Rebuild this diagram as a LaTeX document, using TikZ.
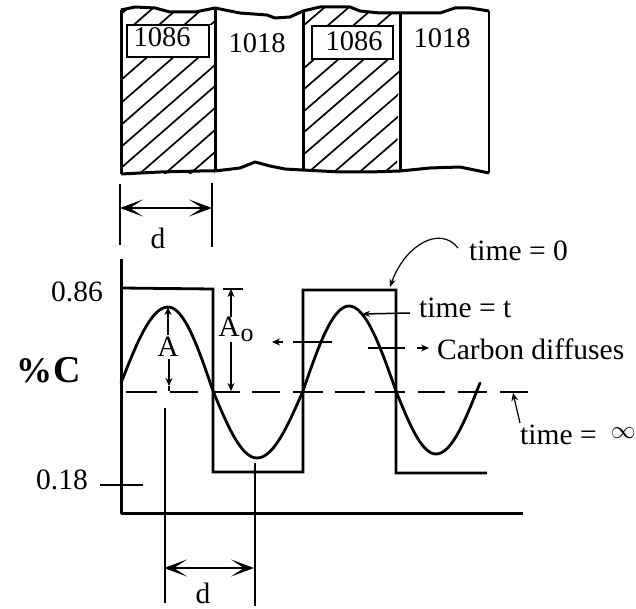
\documentclass[tikz,border=0pt]{standalone}
\usepackage{fontspec}
\setmainfont{Liberation Serif}
\usetikzlibrary{arrows.meta}
\tikzset{
  x=1pt,y=-1pt,
  lbl/.style={inner sep=0pt,font=\fontsize{29.5}{31}\selectfont},
  vlbl/.style={inner sep=0pt,font=\fontsize{28.5}{30}\selectfont},
  border/.style={line width=3pt,line join=round},
  hatch/.style={line width=1.7pt},
  fineline/.style={line width=1.2pt},
  curve/.style={line width=2.8pt,line join=miter},
  dim/.style={line width=2.2pt,{Stealth[length=23pt,width=17pt,inset=13pt]}-{Stealth[length=23pt,width=17pt,inset=13pt]}},
  small/.style={line width=1.2pt,-{Stealth[length=8pt,width=7pt]}},
  boxlabel/.style={draw,line width=2.5pt,inner sep=0pt,fill=white},
}
\begin{document}
\begin{tikzpicture}
\useasboundingbox (0,0) rectangle (636,609);
% specimen hatching
\begin{scope}
\clip (121,10)--(135,7)--(155,8)--(170,12)--(195,12)--(215,8)--(215,174)--(121,174)--cycle;
\foreach \y in {-30,-8,14,36,58,80,103,125,147,168,190,212,234,256}
  \draw[hatch] (121,\y)--(215,\y-82);
\fill[white] (121,25) rectangle (215,57);
\end{scope}
\begin{scope}
\clip (303,11)--(320,7)--(350,7)--(360,11)--(380,13)--(400,13)--(397,172)--(303,172)--cycle;
\foreach \y in {-40,-18,4,26,47,69,90,112,133,155,177,199,221,243}
  \draw[hatch] (303,\y)--(400,\y-84);
\fill[white] (303,26) rectangle (400,59);
\end{scope}
% specimen outline
\draw[border] (121,10)--(135,7)--(155,8)--(170,12)--(195,12)--(215,8)--(225,10)--(240,13)--(267,15)--(275,18)--(290,17)--(303,11)--(320,7)--(350,7)--(360,11)--(380,13)--(400,13)--(440,13)--(455,8)--(470,8)--(489,11);
\draw[border] (121,174)--(160,172)--(200,171)--(215,171)--(240,168)--(255,162)--(270,166)--(285,169)--(303,170)--(340,172)--(370,172)--(400,171)--(430,168)--(460,167)--(489,173);
\draw[border] (121,10)--(121,174);
\draw[border] (215,8)--(215,171);
\draw[border] (303,11)--(303,170);
\draw[border] (400,13)--(400,171);
\draw[line width=2.2pt] (489,11)--(489,173);
% material labels
\node[boxlabel,minimum width=82pt,minimum height=32pt] (boxa) at (168,41) {};
\node[boxlabel,minimum width=81pt,minimum height=33pt] (boxb) at (352.5,42.5) {};
\node[vlbl] (t1086a) at (162,37) {1086};
\node[vlbl] (t1018a) at (257,43) {1018};
\node[vlbl] (t1086b) at (354,41) {1086};
\node[vlbl] (t1018b) at (442,38) {1018};
% top dimension
\coordinate (d1t) at (120,184); \coordinate (d1b) at (120,245);
\coordinate (d2t) at (212,183); \coordinate (d2b) at (212,247);
\coordinate (d1a) at (120,208); \coordinate (d2a) at (212,208);
\draw[line width=1.5pt] (d1t)--(d1b);
\draw[line width=1.5pt] (d2t)--(d2b);
\draw[dim] (d1a)--(d2a);
\node[lbl] (dtop) at (158,238) {d};
% axes
\coordinate (axt) at (121,259); \coordinate (axo) at (121,513); \coordinate (axr) at (523,513);
\draw[border] (axt)--(axo)--(axr);
% time = 0
\draw[curve] (121,288)--(213,289)--(213,472)--(303,472)--(303,290)--(396,290)--(396,473)--(487,473);
% time = t
\draw[curve,line cap=round] (121,383) sin (168,307) cos (213,391) sin (257,458) cos (303,391) sin (349,306) cos (396,391) sin (436,454) cos (480,383);
% time = infinity
\foreach \a/\b in {126/157,170/198,212/240,252/280,293/323,335/365,375/405,418/445,458/487,500/528}
  \draw[line width=2pt] (\a,391.5)--(\b,391.5);
% axis labels
\node[lbl] (v086) at (77,292) {0.86};
\node[lbl] (v018) at (62,480) {0.18};
\draw[line width=2pt] (100,485)--(143,485);
\node[inner sep=0pt,anchor=base west] (pc) at (16,382) {\fontsize{36}{38}\selectfont\bfseries\%\hspace{1pt}\fontsize{38}{40}\selectfont C};
% A
\node[lbl] (A) at (168,347) {A};
\coordinate (ptop) at (168,307); \coordinate (pbot) at (169,386);
\draw[small] (A.north)++(0,-2)--(ptop);
\draw[small] (A.south)++(1,2)--(pbot);
\draw[line width=1.5pt] (169,386)--(169,391);
% A0
\node[lbl] (Ao) at (229,327) {A};
\node[inner sep=0pt,font=\fontsize{26}{27}\selectfont] (Aos) at (247,335) {o};
\draw[line width=1.5pt] (223,289)--(243,289);
\coordinate (aot) at (231,289); \coordinate (aob) at (231,391);
\draw[small] (Ao.north)++(2,0)--(aot);
\draw[small] (231,342)--(aob);
% d lines lower
\coordinate (e1t) at (165,408); \coordinate (e1b) at (165,603);
\coordinate (e2t) at (255,463); \coordinate (e2b) at (255,606);
\coordinate (e1a) at (164,568); \coordinate (e2a) at (254,568);
\draw[fineline] (e1t)--(e1b);
\draw[fineline] (e2t)--(e2b);
\draw[dim] (e1a)--(e2a);
\node[lbl] (dbot) at (203,593) {d};
% carbon diffuses
\node[lbl,anchor=west] (cd) at (437,349) {Carbon diffuses};
\coordinate (la) at (272,342); \coordinate (ls) at (283,342);
\draw[small] (ls)--(la);
\draw[line width=1.2pt] (293,342)--(332,342);
\draw[line width=1.2pt] (368,348)--(405,348);
\coordinate (ra) at (417,348); \coordinate (rb) at (429,348);
\draw[small] (ra)--(rb);
% time labels
\node[lbl,anchor=west] (t0) at (469,251) {time = 0};
\draw[line width=1.2pt,-{Stealth[length=8pt,width=6pt]}] (t0.west)++(-11,-3) .. controls (440,225) and (405,245) .. (390,287);
\node[lbl,anchor=west] (tt) at (419,308) {time = t};
\coordinate (tte) at (362,314);
\draw[line width=1.5pt,-{Stealth[length=8pt,width=6pt]}] (tt.west)++(-9,5)--(tte);
\node[lbl,anchor=west] (ti) at (520,435) {time =};
\node[lbl,anchor=east] (inf) at (636,433) {$\infty$};
\coordinate (tie) at (513,393);
\draw[small] (520,423)--(tie);
\end{tikzpicture}
\end{document}
